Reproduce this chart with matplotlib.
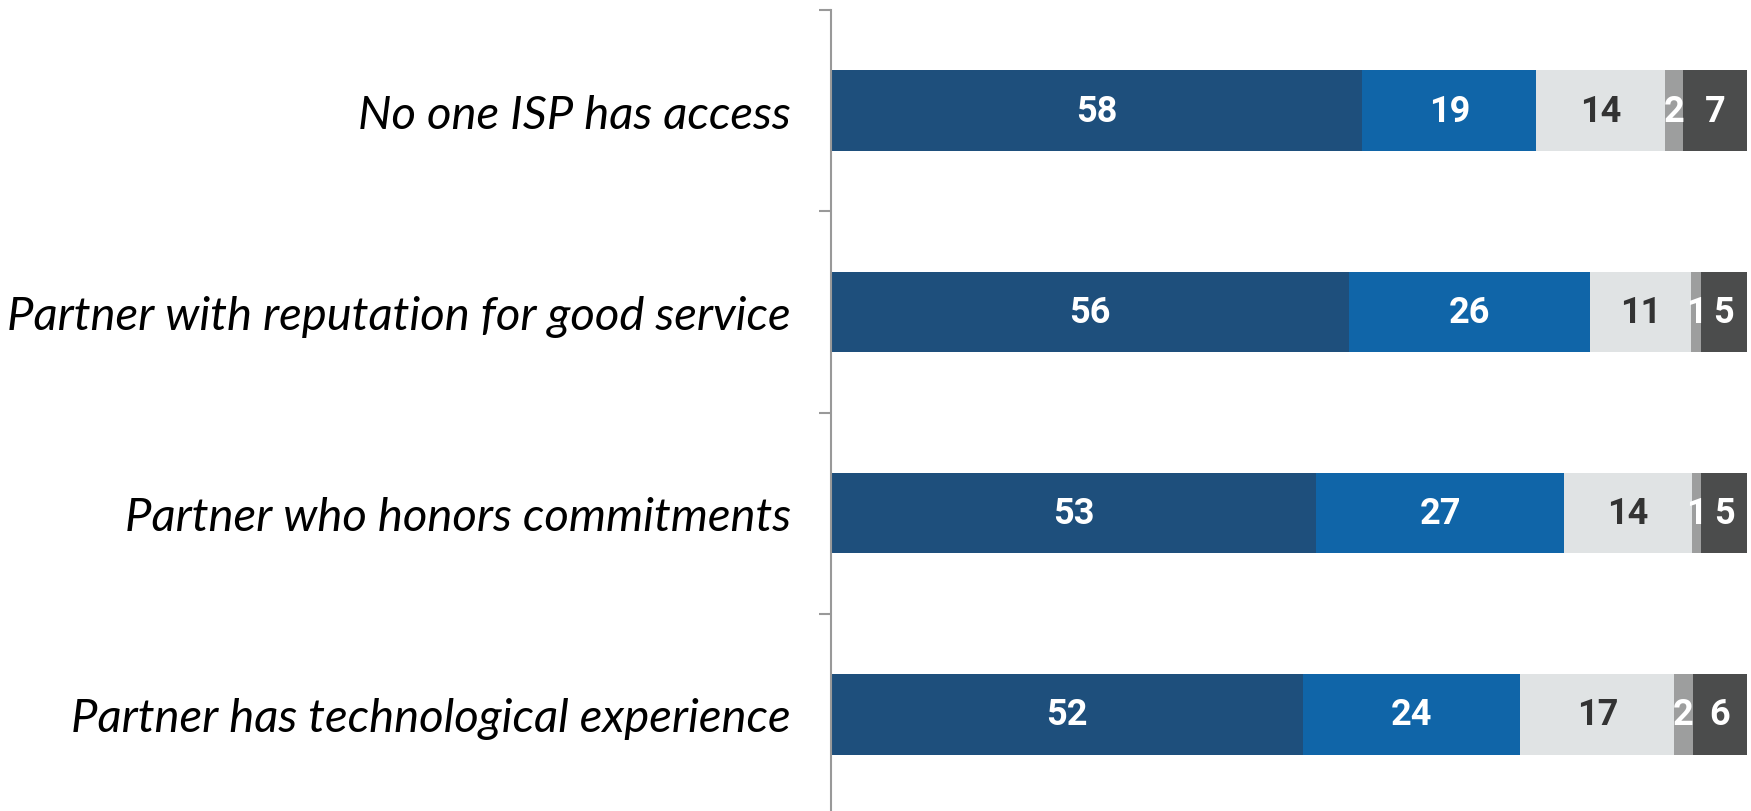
import matplotlib.pyplot as plt
import numpy as np

categories = ["No one ISP has access",
              "Partner with reputation for good service",
              "Partner who honors commitments",
              "Partner has technological experience"]
s1 = [58, 56, 53, 52]
s2 = [19, 26, 27, 24]
s3 = [14, 11, 14, 17]
s4 = [2, 1, 1, 2]
s5 = [7, 5, 5, 6]

series = [s1, s2, s3, s4, s5]
colors = ['#1e4f7c', '#1065a8', '#e0e3e4', '#9d9e9e', '#4b4c4c']
text_colors = ['white', 'white', '#333333', 'white', 'white']

vals = np.array(series, dtype=float)
totals = vals.sum(axis=0)
pct = vals / totals * 100

fig = plt.figure(figsize=(17.51, 8.12), dpi=100)
ax = fig.add_axes([831 / 1751, 0, (1747 - 831) / 1751, 1 - 11 / 812])

y = np.arange(len(categories))
left = np.zeros(len(categories))
for i in range(len(series)):
    ax.barh(y, pct[i], left=left, height=0.4, color=colors[i])
    for j in range(len(categories)):
        ax.text(left[j] + pct[i][j] / 2, y[j], str(series[i][j]),
                ha='center', va='center', color=text_colors[i],
                fontsize=26, fontweight='bold',
                family=['Roboto', 'DejaVu Sans'])
    left += pct[i]

ax.set_xlim(0, 100)
ax.set_ylim(3.48, -0.5)

ax.set_yticks(y)
ax.set_yticklabels(categories, fontsize=34, style='italic', color='black',
                   family=['Lato', 'DejaVu Sans'], fontweight='normal')
ax.set_yticks(np.arange(-0.5, 3.0, 1.0), minor=True)
ax.tick_params(axis='y', which='major', length=0, pad=29)
ax.tick_params(axis='y', which='minor', length=9, color='#999999', width=1.5)
ax.set_xticks([])

for side in ['top', 'right', 'bottom']:
    ax.spines[side].set_visible(False)
ax.spines['left'].set_color('#999999')
ax.spines['left'].set_linewidth(1.5)

fig.savefig('out.png', dpi=100)
